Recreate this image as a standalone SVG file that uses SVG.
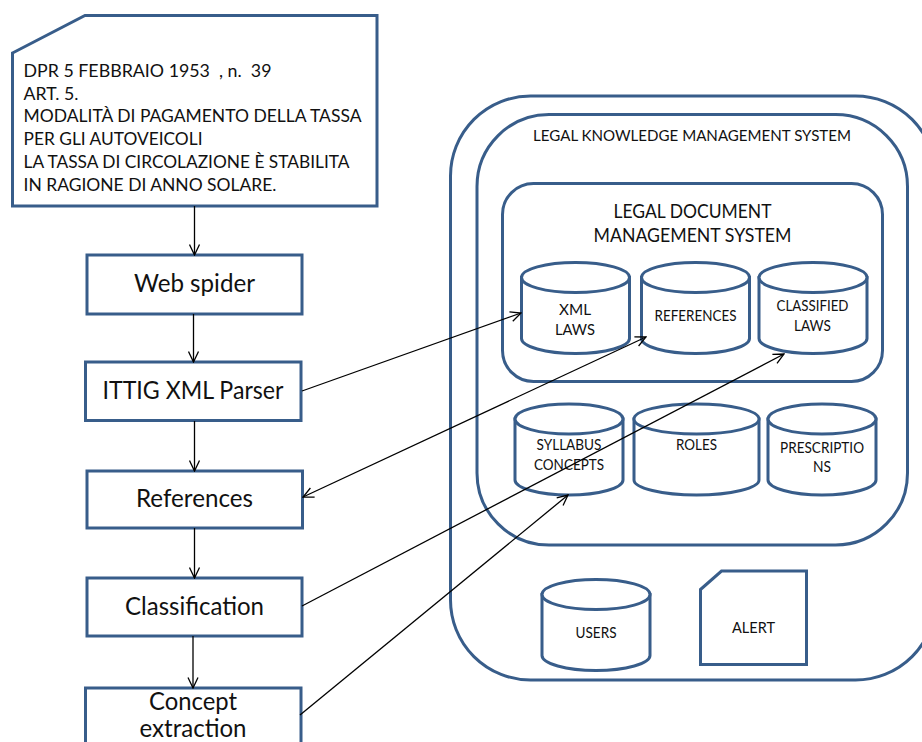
<svg xmlns="http://www.w3.org/2000/svg" width="922" height="742" viewBox="0 0 922 742">
<style>
.s{fill:#fff;stroke:#385d8a;stroke-width:3}
.n{fill:none;stroke:#385d8a;stroke-width:3}
.c{fill:none;stroke:#000;stroke-width:1.3;marker-end:url(#a)}
text{font-family:"Lato","Carlito","Liberation Sans",sans-serif;fill:#111;text-anchor:middle;font-size:15px}
.l{text-anchor:start;font-size:17.500px}
.b{font-size:24.500px}
.m{font-size:18.500px}
</style>
<defs>
<marker id="a" viewBox="-12 -6 13 12" refX="0" refY="0" markerWidth="13" markerHeight="12" markerUnits="userSpaceOnUse" orient="auto-start-reverse"><path d="M-10.500 -5 L0 0 L-10.500 5" fill="none" stroke="#000" stroke-width="1.300"/></marker>
<g id="cyl"><path class="s" d="M0 15 V76 C0 84 24 91 54 91 S108 84 108 76 V15 Z"/><ellipse class="s" cx="54" cy="15" rx="54" ry="15"/></g>
</defs>
<rect id="bg" width="922" height="742" fill="#fff"/>
<g id="outer-system"><rect class="n" x="450.500" y="96" width="485" height="584" rx="80"/></g>
<g id="legal-knowledge-management-system"><rect class="n" x="477" y="114.500" width="430.500" height="430.500" rx="72"/><text x="692" y="141" textLength="318" lengthAdjust="spacingAndGlyphs">LEGAL KNOWLEDGE MANAGEMENT SYSTEM</text></g>
<g id="legal-document-management-system"><rect class="n" x="502.500" y="183.500" width="380" height="198" rx="31"/><text class="m" x="692.500" y="218" textLength="158" lengthAdjust="spacingAndGlyphs">LEGAL DOCUMENT</text><text class="m" x="692.500" y="241.500" textLength="198" lengthAdjust="spacingAndGlyphs">MANAGEMENT SYSTEM</text></g>
<g id="xml-laws"><use href="#cyl" x="521.500" y="262.500"/><text x="575" y="314.500" textLength="32" lengthAdjust="spacingAndGlyphs">XML</text><text x="575" y="335" textLength="40" lengthAdjust="spacingAndGlyphs">LAWS</text></g>
<g id="references-db"><use href="#cyl" x="641.500" y="262.500"/><text x="695.500" y="321" textLength="82" lengthAdjust="spacingAndGlyphs">REFERENCES</text></g>
<g id="classified-laws"><use href="#cyl" x="759" y="262.500"/><text x="812.500" y="311" textLength="72" lengthAdjust="spacingAndGlyphs">CLASSIFIED</text><text x="812.500" y="331" textLength="37" lengthAdjust="spacingAndGlyphs">LAWS</text></g>
<g id="syllabus-concepts"><use href="#cyl" x="515" y="404"/><text x="569" y="450" textLength="65" lengthAdjust="spacingAndGlyphs">SYLLABUS</text><text x="569" y="470" textLength="70" lengthAdjust="spacingAndGlyphs">CONCEPTS</text></g>
<g id="roles"><path class="s" d="M634 419 V480 C634 488 662 495 696.500 495 S759 488 759 480 V419 Z"/><ellipse class="s" cx="696.500" cy="419" rx="62.500" ry="15"/><text x="696.500" y="450" textLength="41" lengthAdjust="spacingAndGlyphs">ROLES</text></g>
<g id="prescriptions"><use href="#cyl" x="768" y="404"/><text x="822" y="453" textLength="84" lengthAdjust="spacingAndGlyphs">PRESCRIPTIO</text><text x="822" y="472" textLength="18" lengthAdjust="spacingAndGlyphs">NS</text></g>
<g id="users"><use href="#cyl" x="542" y="579.500"/><text x="596" y="638" textLength="41" lengthAdjust="spacingAndGlyphs">USERS</text></g>
<g id="alert"><path class="s" d="M700.500 589.500 L721.500 571 H806.500 V664.500 H700.500 Z"/><text x="753.500" y="633" textLength="43" lengthAdjust="spacingAndGlyphs">ALERT</text></g>
<g id="document"><path class="s" d="M12.500 53 L85 15.500 H377 V206 H12.500 Z"/>
<text class="l" x="23.500" y="76.500" textLength="248" lengthAdjust="spacingAndGlyphs" xml:space="preserve">DPR 5 FEBBRAIO 1953  , n.  39</text>
<text class="l" x="23.500" y="99.500" textLength="55" lengthAdjust="spacingAndGlyphs">ART. 5.</text>
<text class="l" x="23.500" y="122" textLength="338" lengthAdjust="spacingAndGlyphs">MODALITÀ DI PAGAMENTO DELLA TASSA</text>
<text class="l" x="23.500" y="145" textLength="179" lengthAdjust="spacingAndGlyphs">PER GLI AUTOVEICOLI</text>
<text class="l" x="23.500" y="168" textLength="326" lengthAdjust="spacingAndGlyphs">LA TASSA DI CIRCOLAZIONE È STABILITA</text>
<text class="l" x="23.500" y="191" textLength="253" lengthAdjust="spacingAndGlyphs">IN RAGIONE DI ANNO SOLARE.</text></g>
<g id="web-spider"><rect class="s" x="87" y="255" width="215" height="59"/><text class="b" x="194.500" y="292" textLength="121" lengthAdjust="spacingAndGlyphs">Web spider</text></g>
<g id="ittig-xml-parser"><rect class="s" x="85.500" y="362" width="215.500" height="58.500"/><text class="b" x="193" y="399" textLength="181" lengthAdjust="spacingAndGlyphs">ITTIG XML Parser</text></g>
<g id="references"><rect class="s" x="87" y="471" width="215.500" height="57"/><text class="b" x="194.500" y="507" textLength="117" lengthAdjust="spacingAndGlyphs">References</text></g>
<g id="classification"><rect class="s" x="87" y="578" width="215" height="58"/><text class="b" x="194.500" y="615" textLength="139" lengthAdjust="spacingAndGlyphs">Classification</text></g>
<g id="concept-extraction"><rect class="s" x="85.500" y="688" width="215.500" height="70"/><text class="b" x="193" y="710" textLength="88" lengthAdjust="spacingAndGlyphs">Concept</text><text class="b" x="193" y="737" textLength="107" lengthAdjust="spacingAndGlyphs">extraction</text></g>
<g id="connectors">
<path class="c" d="M194.500 206 V255"/>
<path class="c" d="M193.500 314 V362"/>
<path class="c" d="M194.500 421 V471"/>
<path class="c" d="M194.500 528 V578"/>
<path class="c" d="M193 636 V688"/>
<path class="c" d="M302 391 L521 313"/>
<path class="c" d="M303 497 L646 337" style="marker-start:url(#a)"/>
<path class="c" d="M302 606 L784 354"/>
<path class="c" d="M300 715 L568 495"/>
</g>
</svg>
